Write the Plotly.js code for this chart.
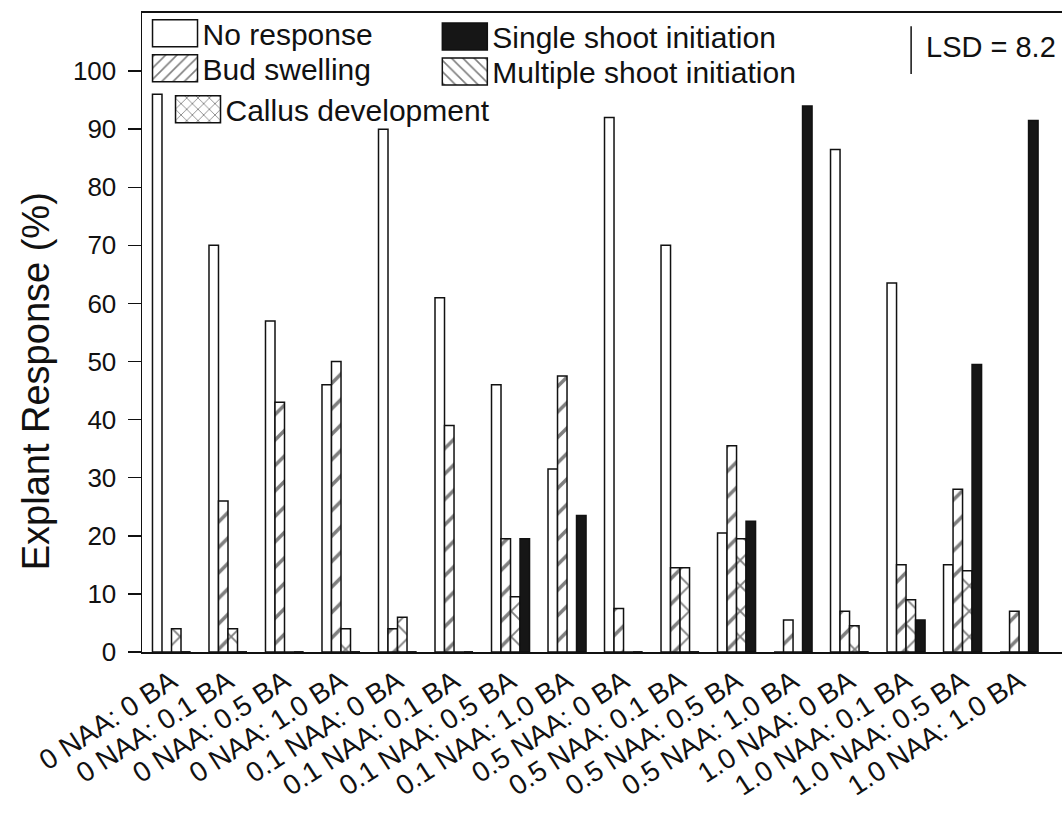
<!DOCTYPE html>
<html>
<head>
<meta charset="utf-8">
<script src="https://cdn.plot.ly/plotly-3.0.1.min.js"></script>
<style>
  html, body { margin: 0; padding: 0; background: #fff; }
  #chart { width: 1062px; height: 813px; }
</style>
</head>
<body>
<div id="chart"></div>
<script>
// ---- data ----
const categories = [
  "0 NAA: 0 BA", "0 NAA: 0.1 BA", "0 NAA: 0.5 BA", "0 NAA: 1.0 BA",
  "0.1 NAA: 0 BA", "0.1 NAA: 0.1 BA", "0.1 NAA: 0.5 BA", "0.1 NAA: 1.0 BA",
  "0.5 NAA: 0 BA", "0.5 NAA: 0.1 BA", "0.5 NAA: 0.5 BA", "0.5 NAA: 1.0 BA",
  "1.0 NAA: 0 BA", "1.0 NAA: 0.1 BA", "1.0 NAA: 0.5 BA", "1.0 NAA: 1.0 BA"
];
const noResponse       = [96, 70, 57, 46, 90, 61, 46, 31.5, 92, 70, 20.5, 0, 86.5, 63.5, 15, 0];
const budSwelling      = [0, 26, 43, 50, 4, 39, 19.5, 47.5, 7.5, 14.5, 35.5, 5.5, 7, 15, 28, 7];
const callusDevelopment= [4, 4, 0, 4, 6, 0, 9.5, 0, 0, 14.5, 19.5, 0, 4.5, 9, 14, 0];
const singleShoot      = [0, 0, 0, 0, 0, 0, 19.5, 23.5, 0, 0, 22.5, 94, 0, 5.5, 49.5, 91.5];
const multipleShoot    = [0, 0, 0, 0, 0, 0, 0, 0, 0, 0, 0, 0, 0, 0, 0, 0];
const yTicks = [0, 10, 20, 30, 40, 50, 60, 70, 80, 90, 100];
const lsdValue = 8.2;
const yTitle = "Explant Response (%)";

const FONT = "Liberation Sans, Arial, sans-serif";
const lineStyle = { color: "#111", width: 1.5 };
const hatch = (shape) => ({ shape: shape, size: 18, solidity: 0.2, fgcolor: "#000", bgcolor: "#fff", fillmode: "overlay" });

const traces = [
  { name: "No response", y: noResponse, offsetgroup: "a", legend: "legend",
    marker: { color: "#fff", line: lineStyle } },
  { name: "Bud swelling", y: budSwelling, offsetgroup: "b", legend: "legend",
    marker: { color: "#fff", line: lineStyle, pattern: hatch("/") } },
  { name: "Callus development", y: callusDevelopment, offsetgroup: "c", legend: "legend3",
    marker: { color: "#fff", line: lineStyle, pattern: hatch("x") } },
  { name: "Single shoot initiation", y: singleShoot, offsetgroup: "d", legend: "legend2",
    marker: { color: "#161616", line: lineStyle } },
  { name: "Multiple shoot initiation", y: multipleShoot, offsetgroup: "d", legend: "legend2",
    marker: { color: "#fff", line: lineStyle, pattern: hatch("\\") } }
].map(t => Object.assign({ type: "bar", x: categories, hoverinfo: "skip" }, t));

const legendBase = {
  font: { family: FONT, size: 30, color: "#111" },
  bgcolor: "rgba(0,0,0,0)", borderwidth: 0,
  itemwidth: 45, tracegroupgap: 0, xanchor: "left", yanchor: "top",
  traceorder: "normal", itemclick: false
};

const layout = {
  width: 1062, height: 813,
  margin: { l: 142, r: 0, t: 13, b: 161 },
  paper_bgcolor: "#fff", plot_bgcolor: "#fff",
  barmode: "group", bargap: 0.327, bargroupgap: 0,
  showlegend: true,
  legend: Object.assign({}, legendBase, { x: 0.006, y: 1.009 }),
  legend2: Object.assign({}, legendBase, { x: 0.321, y: 1.004 }),
  legend3: Object.assign({}, legendBase, { x: 0.031, y: 0.890 }),
  xaxis: {
    type: "category", range: [-0.522, 15.76],
    showline: true, linecolor: "#111", linewidth: 2, mirror: true,
    ticks: "", showgrid: false, zeroline: false,
    tickangle: -33,
    tickfont: { family: FONT, size: 28, color: "#111" }
  },
  yaxis: {
    range: [0, 110], tickvals: yTicks,
    showline: true, linecolor: "#111", linewidth: 1.5,
    ticks: "outside", ticklen: 13, tickwidth: 1.5, tickcolor: "#111",
    ticklabelstandoff: 6,
    showgrid: false, zeroline: false,
    tickfont: { family: FONT, size: 26, color: "#111" }
  },
  shapes: [
    { type: "line", xref: "paper", yref: "y", x0: 0.836, x1: 0.836, y0: 107.7 - lsdValue, y1: 107.7,
      line: { color: "#111", width: 1.5 } }
  ],
  annotations: [
    { xref: "paper", yref: "y", x: 0.85, y: 104.2, xanchor: "left", yanchor: "middle",
      text: "LSD = " + lsdValue, showarrow: false,
      font: { family: FONT, size: 29, color: "#111" } },
    { xref: "paper", yref: "paper", x: -0.115, y: 0.424, xanchor: "center", yanchor: "middle",
      text: yTitle, textangle: -90, showarrow: false,
      font: { family: FONT, size: 38, color: "#111" } }
  ]
};

Plotly.newPlot("chart", traces, layout, { staticPlot: true, displayModeBar: false }).then(() => {
  // enlarge legend swatches
  document.querySelectorAll(".legendpoints path").forEach(p => {
    p.setAttribute("d", "M22.5,13.5H-22.5V-13.5H22.5Z");
  });
  // tighten legend row spacing to match the reference
  document.querySelectorAll("g.infolayer > g").forEach(g => {
    const items = g.querySelectorAll("g.traces");
    if (items.length < 2) return;
    const m0 = /translate\(([-\d.]+),\s*([-\d.]+)\)/.exec(items[0].getAttribute("transform") || "");
    if (!m0) return;
    const x0 = parseFloat(m0[1]), y0 = parseFloat(m0[2]);
    items.forEach((it, i) => {
      it.setAttribute("transform", "translate(" + x0 + "," + (y0 + 35 * i) + ")");
    });
  });
});
</script>
</body>
</html>
